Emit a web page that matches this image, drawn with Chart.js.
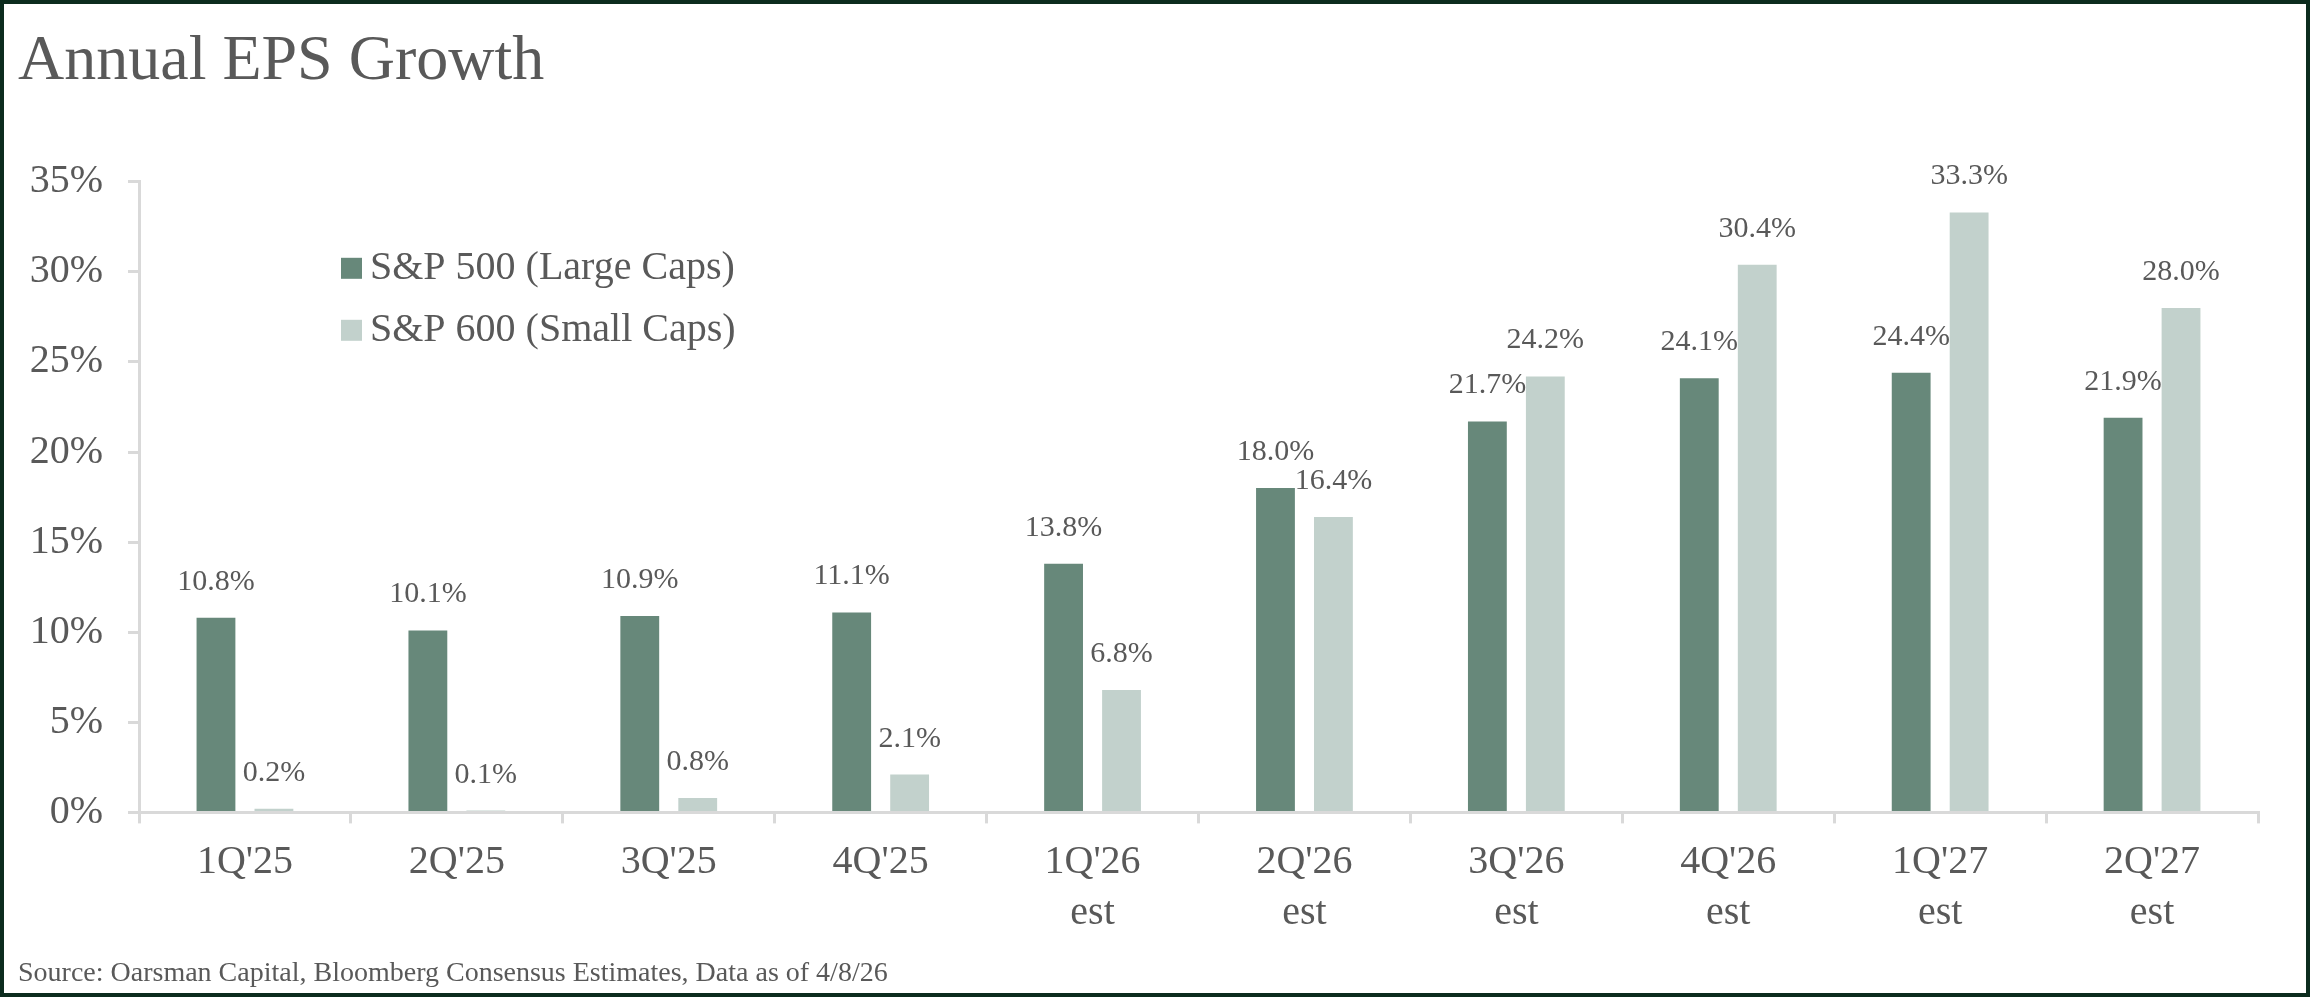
<!DOCTYPE html>
<html>
<head>
<meta charset="utf-8">
<title>Annual EPS Growth</title>
<script src="https://cdn.jsdelivr.net/npm/chart.js@4.4.1/dist/chart.umd.min.js"></script>
<style>
  html, body { margin: 0; padding: 0; background: #ffffff; }
  #frame {
    position: absolute; left: 0; top: 0;
    width: 2310px; height: 997px;
    box-sizing: border-box;
    border: 4px solid #0c2c1e;
    background: #ffffff;
  }
  #wrap { position: relative; width: 2302px; height: 989px; }
</style>
</head>
<body>
<div id="frame"><div id="wrap"><canvas id="eps-chart"></canvas></div></div>
<script>
"use strict";

// categories (second line = "est" for forecasts)
var quarters = [["1Q'25"], ["2Q'25"], ["3Q'25"], ["4Q'25"], ["1Q'26", "est"], ["2Q'26", "est"], ["3Q'26", "est"], ["4Q'26", "est"], ["1Q'27", "est"], ["2Q'27", "est"]];
// annual EPS growth, %
var largeCaps = [10.8, 10.1, 10.9, 11.1, 13.8, 18.0, 21.7, 24.1, 24.4, 21.9];
var smallCaps = [0.2, 0.1, 0.8, 2.1, 6.8, 16.4, 24.2, 30.4, 33.3, 28.0];
var seriesNames = ["S&P 500 (Large Caps)", "S&P 600 (Small Caps)"];
var yTicks = [0, 5, 10, 15, 20, 25, 30, 35];
var sourceNote = "Source: Oarsman Capital, Bloomberg Consensus Estimates, Data as of 4/8/26";

var FONT = "'Liberation Serif', 'DejaVu Serif', serif";
var TEXT = "#595959";
var AXIS = "#d9d9d9";

// value labels above each bar
var barValues = {
    id: "barValues",
    afterDatasetsDraw: function (chart) {
        var ctx = chart.ctx;
        ctx.save();
        ctx.font = "30px " + FONT;
        ctx.fillStyle = TEXT;
        ctx.textAlign = "center";
        ctx.textBaseline = "alphabetic";
        chart.data.datasets.forEach(function (ds, i) {
            chart.getDatasetMeta(i).data.forEach(function (bar, j) {
                ctx.fillText(ds.data[j].toFixed(1) + "%", bar.x, bar.y - 28);
            });
        });
        ctx.restore();
    }
};

// legend drawn inside the plot, upper left
var innerLegend = {
    id: "innerLegend",
    afterDraw: function (chart) {
        var ctx = chart.ctx, area = chart.chartArea;
        var x = area.left + 202, y = area.top + 86;
        ctx.save();
        ctx.font = "40px " + FONT;
        ctx.textBaseline = "middle";
        ctx.textAlign = "left";
        chart.data.datasets.forEach(function (ds, i) {
            var cy = y + i * 62;
            ctx.fillStyle = ds.backgroundColor;
            ctx.fillRect(x, cy - 10, 21, 21);
            ctx.fillStyle = TEXT;
            ctx.fillText(ds.label, x + 29, cy + 1);
        });
        ctx.restore();
    }
};

new Chart(document.getElementById("eps-chart"), {
    type: "bar",
    data: {
        labels: quarters,
        datasets: [
            {
                label: seriesNames[0],
                backgroundColor: "#67887a",
                data: largeCaps,
                categoryPercentage: 0.547,
                barPercentage: 0.67
            },
            {
                label: seriesNames[1],
                backgroundColor: "#c2d1cc",
                data: smallCaps,
                categoryPercentage: 0.547,
                barPercentage: 0.67
            }
        ]
    },
    options: {
        responsive: true,
        maintainAspectRatio: false,
        animation: false,
        devicePixelRatio: 1,
        layout: { padding: { left: 14, right: 48, top: 0, bottom: 0 } },
        plugins: {
            legend: { display: false },
            tooltip: { enabled: false },
            title: {
                display: true,
                text: "Annual EPS Growth",
                align: "start",
                color: TEXT,
                font: { family: FONT, size: 64, weight: "normal", lineHeight: 1.2 },
                padding: { top: 20, bottom: 81 }
            },
            subtitle: {
                display: true,
                position: "bottom",
                text: sourceNote,
                align: "start",
                color: TEXT,
                font: { family: FONT, size: 28, weight: "normal", lineHeight: 1.2 },
                padding: { top: 14, bottom: 3 }
            }
        },
        scales: {
            x: {
                grid: { drawOnChartArea: false, drawTicks: true, tickLength: 11, color: AXIS, lineWidth: 3, offset: true },
                border: { display: true, color: AXIS, width: 3 },
                ticks: {
                    color: TEXT,
                    padding: 13,
                    maxRotation: 0,
                    autoSkip: false,
                    font: { family: FONT, size: 40, lineHeight: 1.28 }
                },
                afterFit: function (scale) { scale.height = 130; }
            },
            y: {
                min: yTicks[0],
                max: yTicks[yTicks.length - 1],
                afterBuildTicks: function (scale) {
                    scale.ticks = yTicks.map(function (v) { return { value: v }; });
                },
                grid: { drawOnChartArea: false, drawTicks: true, tickLength: 11, color: AXIS, lineWidth: 3 },
                border: { display: true, color: AXIS, width: 3 },
                ticks: {
                    color: TEXT,
                    padding: 25,
                    font: { family: FONT, size: 40 },
                    callback: function (v) { return v + "%"; }
                },
                afterFit: function (scale) { scale.width = 121; }
            }
        }
    },
    plugins: [barValues, innerLegend]
});
</script>
</body>
</html>
